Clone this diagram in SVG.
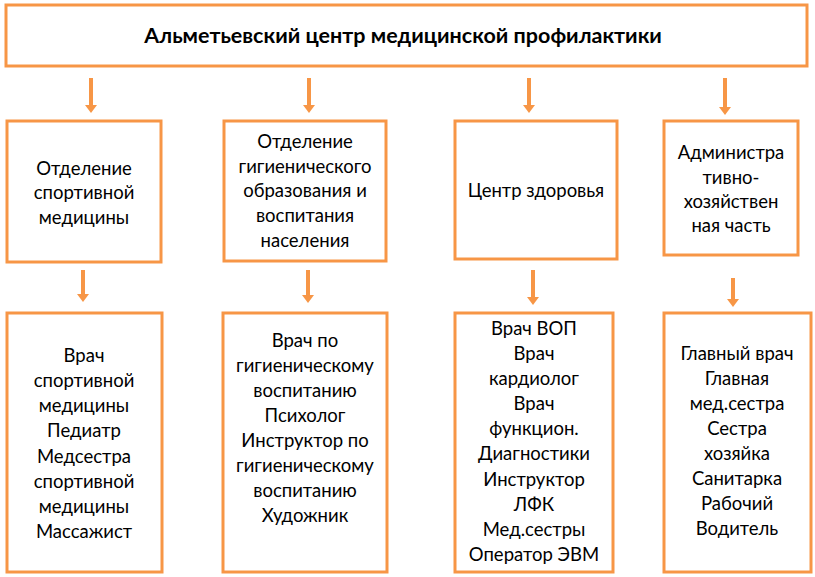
<svg xmlns="http://www.w3.org/2000/svg" width="815" height="577" viewBox="0 0 815 577">
<style>
.box{fill:#ffffff;stroke:#F79646;stroke-width:3}
.t{font-family:Lato,"Open Sans","Liberation Sans",sans-serif;font-size:18.5px;fill:#000;text-anchor:middle}
.title{font-family:Lato,"Open Sans","Liberation Sans",sans-serif;font-size:21.5px;font-weight:bold;fill:#000;text-anchor:middle}
.c{stroke:#F79646;stroke-width:4;fill:none;marker-end:url(#ah)}
</style>
<defs>
<marker id="ah" markerUnits="userSpaceOnUse" markerWidth="8" markerHeight="12" viewBox="0 0 8 12" refX="0" refY="6" orient="auto">
<path d="M0,0 L8,6 L0,12 z" fill="#F79646"/>
</marker>
</defs>
<rect width="815" height="577" fill="#ffffff"/>
<g id="connectors">
<line class="c" x1="91" y1="78" x2="91" y2="105"/>
<line class="c" x1="309" y1="78" x2="309" y2="105"/>
<line class="c" x1="529" y1="78" x2="529" y2="105"/>
<line class="c" x1="725" y1="78" x2="725" y2="107"/>
<line class="c" x1="83" y1="270" x2="83" y2="294"/>
<line class="c" x1="308" y1="270" x2="308" y2="295"/>
<line class="c" x1="533" y1="270" x2="533" y2="297"/>
<line class="c" x1="733" y1="278" x2="733" y2="299"/>
</g>
<g id="root">
<rect class="box" x="6" y="5" width="801" height="61"/>
<text class="title" x="403" y="43">Альметьевский центр медицинской профилактики</text>
</g>
<g id="dept-sport">
<rect class="box" x="7" y="121" width="154" height="141"/>
<text class="t" x="84" y="175">Отделение</text>
<text class="t" x="84" y="199">спортивной</text>
<text class="t" x="84" y="224">медицины</text>
</g>
<g id="dept-hygiene">
<rect class="box" x="224" y="121" width="162" height="140"/>
<text class="t" x="305" y="148">Отделение</text>
<text class="t" x="305" y="173">гигиенического</text>
<text class="t" x="305" y="197">образования и</text>
<text class="t" x="305" y="222">воспитания</text>
<text class="t" x="305" y="247">населения</text>
</g>
<g id="dept-health">
<rect class="box" x="455" y="121" width="162" height="138"/>
<text class="t" x="536" y="197">Центр здоровья</text>
</g>
<g id="dept-admin">
<rect class="box" x="664" y="121" width="134" height="134"/>
<text class="t" x="731" y="159">Администра</text>
<text class="t" x="731" y="184">тивно-</text>
<text class="t" x="731" y="208">хозяйствен</text>
<text class="t" x="731" y="232">ная часть</text>
</g>
<g id="staff-sport">
<rect class="box" x="7" y="313" width="155" height="259"/>
<text class="t" x="84" y="362">Врач</text>
<text class="t" x="84" y="387">спортивной</text>
<text class="t" x="84" y="412">медицины</text>
<text class="t" x="84" y="437">Педиатр</text>
<text class="t" x="84" y="463">Медсестра</text>
<text class="t" x="84" y="488">спортивной</text>
<text class="t" x="84" y="513">медицины</text>
<text class="t" x="84" y="538">Массажист</text>
</g>
<g id="staff-hygiene">
<rect class="box" x="223" y="313" width="164" height="259"/>
<text class="t" x="305" y="347">Врач по</text>
<text class="t" x="305" y="372">гигиеническому</text>
<text class="t" x="305" y="397">воспитанию</text>
<text class="t" x="305" y="422">Психолог</text>
<text class="t" x="305" y="447">Инструктор по</text>
<text class="t" x="305" y="472">гигиеническому</text>
<text class="t" x="305" y="497">воспитанию</text>
<text class="t" x="305" y="522">Художник</text>
</g>
<g id="staff-health">
<rect class="box" x="455" y="313" width="158" height="259"/>
<text class="t" x="534" y="335">Врач ВОП</text>
<text class="t" x="534" y="360">Врач</text>
<text class="t" x="534" y="385">кардиолог</text>
<text class="t" x="534" y="410">Врач</text>
<text class="t" x="534" y="435">функцион.</text>
<text class="t" x="534" y="460">Диагностики</text>
<text class="t" x="534" y="486">Инструктор</text>
<text class="t" x="534" y="511">ЛФК</text>
<text class="t" x="534" y="536">Мед.сестры</text>
<text class="t" x="534" y="561">Оператор ЭВМ</text>
</g>
<g id="staff-admin">
<rect class="box" x="664" y="313" width="147" height="259"/>
<text class="t" x="737" y="360">Главный врач</text>
<text class="t" x="737" y="385">Главная</text>
<text class="t" x="737" y="410">мед.сестра</text>
<text class="t" x="737" y="435">Сестра</text>
<text class="t" x="737" y="460">хозяйка</text>
<text class="t" x="737" y="485">Санитарка</text>
<text class="t" x="737" y="510">Рабочий</text>
<text class="t" x="737" y="535">Водитель</text>
</g>
</svg>
